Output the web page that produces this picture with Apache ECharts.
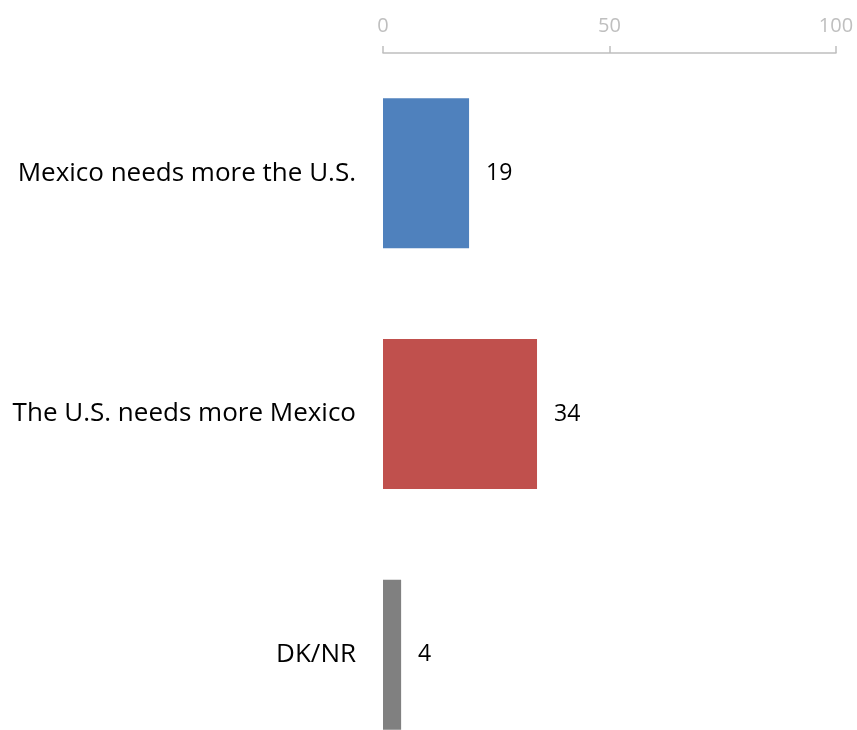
<!DOCTYPE html>
<html>
<head>
<meta charset="utf-8">
<script src="https://cdn.jsdelivr.net/npm/echarts@6/dist/echarts.min.js"></script>
<style>
  html, body { margin: 0; padding: 0; background: #fff; overflow: hidden; }
  /* the last bar runs past the bottom edge in the original, so the chart is taller than the window */
  #chart { width: 857px; height: 775px; }
</style>
</head>
<body>
<div id="chart"></div>
<script>
const categories = ['Mexico needs more the U.S.', 'The U.S. needs more Mexico', 'DK/NR']
const values = [19, 34, 4]
const barColors = ['#4F81BD', '#C0504D', '#808080']
const tickValues = [0, 50, 100]

const myChart = echarts.init(document.getElementById('chart'))
myChart.setOption({
  animation: false,
  textStyle: { fontFamily: 'Open Sans' },
  grid: {
    left: 383,
    right: 21,
    top: 53,
    bottom: 0
  },
  xAxis: {
    type: 'value',
    position: 'top',
    min: tickValues[0],
    max: tickValues[tickValues.length - 1],
    interval: 50,
    axisLine: { show: true, lineStyle: { color: '#BFBFBF', width: 1.5 } },
    axisTick: { show: true, length: 7, lineStyle: { color: '#BFBFBF', width: 1.5 } },
    axisLabel: { color: '#BFBFBF', fontSize: 20, margin: 17 },
    splitLine: { show: false }
  },
  yAxis: {
    type: 'category',
    inverse: true,
    data: categories,
    axisLine: { show: false },
    axisTick: { show: false },
    axisLabel: { color: '#000', fontSize: 26, margin: 27 }
  },
  series: [{
    type: 'bar',
    barWidth: 150,
    data: values.map((v, i) => ({ value: v, itemStyle: { color: barColors[i] } })),
    label: {
      show: true,
      position: 'right',
      distance: 17,
      color: '#000',
      fontSize: 23
    }
  }]
})
</script>
</body>
</html>
